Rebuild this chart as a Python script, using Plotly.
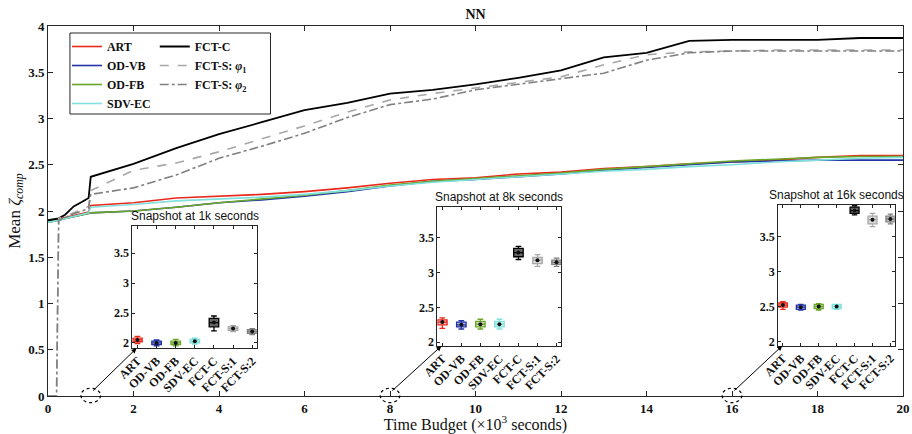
import plotly.graph_objects as go

# ---------------------------------------------------------------- data
# time budget grid, in thousands of seconds
time_k = [0, 0.2, 0.25, 0.4, 0.6, 0.8, 0.95, 1.0, 2, 3, 4, 5, 6, 7, 8, 9, 10,
          11, 12, 13, 14, 15, 16, 17, 18, 19, 20]

art = [1.89, 1.90, 1.91, 1.93, 1.95, 1.97, 1.99, 2.06, 2.09, 2.14, 2.16, 2.18, 2.21,
       2.25, 2.30, 2.34, 2.36, 2.40, 2.42, 2.46, 2.48, 2.51, 2.53, 2.55, 2.58, 2.60, 2.60]
od_vb = [1.88, 1.89, 1.90, 1.92, 1.94, 1.96, 1.97, 1.98, 2.00, 2.04, 2.09, 2.12, 2.16,
         2.21, 2.27, 2.32, 2.34, 2.37, 2.40, 2.44, 2.47, 2.50, 2.53, 2.54, 2.55, 2.55, 2.55]
od_fb = [1.88, 1.89, 1.90, 1.92, 1.94, 1.96, 1.97, 1.98, 2.00, 2.04, 2.09, 2.13, 2.17,
         2.22, 2.28, 2.32, 2.35, 2.38, 2.41, 2.45, 2.48, 2.51, 2.54, 2.56, 2.58, 2.59, 2.59]
sdv_ec = [1.88, 1.89, 1.90, 1.92, 1.94, 1.96, 1.98, 2.04, 2.07, 2.11, 2.13, 2.15, 2.18,
          2.22, 2.27, 2.31, 2.34, 2.37, 2.40, 2.43, 2.45, 2.48, 2.50, 2.53, 2.55, 2.57, 2.58]
fct_c = [1.90, 1.91, 1.92, 1.96, 2.05, 2.10, 2.14, 2.37, 2.51, 2.68, 2.83, 2.96, 3.09,
         3.17, 3.27, 3.31, 3.37, 3.44, 3.52, 3.66, 3.71, 3.84, 3.85, 3.85, 3.85, 3.87, 3.87]
fct_s1 = [0, 0, 1.92, 1.94, 1.98, 2.02, 2.05, 2.22, 2.44, 2.52, 2.64, 2.78, 2.92,
          3.07, 3.20, 3.27, 3.33, 3.39, 3.45, 3.58, 3.69, 3.72, 3.73, 3.74, 3.74, 3.74, 3.74]
fct_s2 = [0, 0, 1.90, 1.93, 1.97, 2.00, 2.03, 2.18, 2.25, 2.39, 2.57, 2.70, 2.84,
          3.01, 3.15, 3.21, 3.31, 3.37, 3.43, 3.49, 3.63, 3.71, 3.73, 3.73, 3.73, 3.73, 3.73]

# snapshot box statistics (one entry per method)
methods = ["ART", "OD-VB", "OD-FB", "SDV-EC", "FCT-C", "FCT-S:1", "FCT-S:2"]
snap_times = [1, 8, 16]
snap_titles = ["Snapshot at 1k seconds", "Snapshot at 8k seconds", "Snapshot at 16k seconds"]

med_1k = [2.05, 2.00, 2.00, 2.03, 2.34, 2.24, 2.19]
q1_1k = [2.02, 1.97, 1.97, 2.00, 2.27, 2.21, 2.16]
q3_1k = [2.08, 2.03, 2.03, 2.06, 2.41, 2.27, 2.22]
lo_1k = [1.99, 1.95, 1.95, 1.98, 2.20, 2.19, 2.14]
hi_1k = [2.11, 2.05, 2.06, 2.08, 2.45, 2.29, 2.24]

med_8k = [2.29, 2.25, 2.26, 2.26, 3.29, 3.18, 3.15]
q1_8k = [2.25, 2.22, 2.22, 2.22, 3.23, 3.13, 3.12]
q3_8k = [2.32, 2.29, 2.30, 2.30, 3.35, 3.22, 3.18]
lo_8k = [2.20, 2.19, 2.19, 2.19, 3.19, 3.09, 3.09]
hi_8k = [2.35, 2.31, 2.33, 2.33, 3.38, 3.26, 3.21]

med_16k = [2.52, 2.49, 2.50, 2.50, 3.87, 3.74, 3.75]
q1_16k = [2.49, 2.46, 2.47, 2.47, 3.83, 3.68, 3.71]
q3_16k = [2.55, 2.52, 2.53, 2.53, 3.92, 3.79, 3.79]
lo_16k = [2.46, 2.45, 2.45, 2.46, 3.81, 3.64, 3.68]
hi_16k = [2.57, 2.53, 2.54, 2.53, 3.94, 3.83, 3.82]

# ---------------------------------------------------------------- styling
SERIF = "Liberation Serif"
SANS = "Liberation Sans"
AX = "#262626"

line_colors = ["#e8291c", "#2334a8", "#6aa628", "#80e0dc", "#000000", "#a8a8a8", "#808080"]
box_fills = ["rgba(232,41,28,0.35)", "rgba(35,52,168,0.35)", "rgba(106,166,40,0.35)",
             "rgba(128,224,220,0.40)", "rgba(0,0,0,0.6)", "rgba(168,168,168,0.45)",
             "rgba(128,128,128,0.5)"]

W, H = 912, 434
ML, MR, MT, MB = 48, 7, 26, 38
PW, PH = W - ML - MR, H - MT - MB

fig = go.Figure()

series = [
    ("ART", art, line_colors[0], "solid", 1.6, "legend"),
    ("OD-VB", od_vb, line_colors[1], "solid", 1.6, "legend"),
    ("OD-FB", od_fb, line_colors[2], "solid", 1.6, "legend"),
    ("SDV-EC", sdv_ec, line_colors[3], "solid", 1.6, "legend"),
    ("FCT-C", fct_c, line_colors[4], "solid", 1.8, "legend2"),
    ("FCT-S: <i>φ</i><sub>1</sub>", fct_s1, line_colors[5], "dash", 1.6, "legend2"),
    ("FCT-S: <i>φ</i><sub>2</sub>", fct_s2, line_colors[6], "dashdot", 1.6, "legend2"),
]
for name, ys, col, dash, wid, leg in series:
    fig.add_trace(go.Scatter(x=time_k, y=ys, mode="lines", name=name,
                             line=dict(color=col, dash=dash, width=wid),
                             legend=leg))

# ---------------------------------------------------------------- insets
inset_dom_x = [[0.0988, 0.2442], [0.4554, 0.6001], [0.8541, 0.9903]]
inset_dom_y = [[0.1289, 0.4603], [0.1351, 0.5116], [0.1359, 0.5162]]
inset_yrange = [[1.91, 3.96], [1.945, 3.95], [1.94, 3.95]]
snap_stats = [
    (med_1k, q1_1k, q3_1k, lo_1k, hi_1k),
    (med_8k, q1_8k, q3_8k, lo_8k, hi_8k),
    (med_16k, q1_16k, q3_16k, lo_16k, hi_16k),
]

annotations = []
shapes = []
for k in range(3):
    xa, ya = f"x{k + 2}", f"y{k + 2}"
    med, q1, q3, lo, hi = snap_stats[k]
    for j, m in enumerate(methods):
        fig.add_trace(go.Box(
            x=[m], q1=[q1[j]], median=[med[j]], q3=[q3[j]],
            lowerfence=[lo[j]], upperfence=[hi[j]],
            xaxis=xa, yaxis=ya, width=0.5, whiskerwidth=0.6,
            line=dict(color=line_colors[j], width=1.3),
            fillcolor=box_fills[j], boxpoints=False, showlegend=False,
            hoverinfo="skip"))
    fig.add_trace(go.Scatter(
        x=methods, y=med, mode="markers", xaxis=xa, yaxis=ya,
        marker=dict(color="#111111", size=4), showlegend=False, hoverinfo="skip"))

    axis_common = dict(showline=True, linecolor=AX, linewidth=1, mirror="ticks",
                       ticks="inside", ticklen=3, tickcolor=AX, showgrid=False,
                       zeroline=False)
    fig.update_layout(**{
        f"xaxis{k + 2}": dict(domain=inset_dom_x[k], anchor=ya, type="category",
                              categoryorder="array", categoryarray=methods,
                              range=[-0.26, 6.24], tickangle=-45,
                              tickfont=dict(family=SERIF, size=12, color="#111",
                                            weight="bold"),
                              **axis_common),
        f"yaxis{k + 2}": dict(domain=inset_dom_y[k], anchor=xa,
                              range=inset_yrange[k], tickvals=[2, 2.5, 3, 3.5],
                              tickfont=dict(family=SERIF, size=12, color="#111",
                                            weight="bold"),
                              **axis_common),
    })

    # inset title
    annotations.append(dict(
        xref="paper", yref="paper", x=sum(inset_dom_x[k]) / 2, y=inset_dom_y[k][1],
        xanchor="center", yanchor="bottom", yshift=1, showarrow=False,
        text=snap_titles[k], font=dict(family=SANS, size=12, color="#111")))

    # dotted marker on the time axis at the snapshot time
    t = snap_times[k]
    shapes.append(dict(type="circle", xref="x", yref="paper",
                       x0=t - 0.23, x1=t + 0.23, y0=-0.018, y1=0.021,
                       line=dict(color="black", width=1.2, dash="dot")))

    # arrow from the snapshot marker to the inset
    hx = ML + inset_dom_x[k][0] * PW + 4
    hy = MT + PH - inset_dom_y[k][0] * PH
    tx = ML + t / 20 * PW + 1
    ty = MT + PH - 4
    annotations.append(dict(
        xref="paper", yref="paper", x=inset_dom_x[k][0] + 4 / PW, y=inset_dom_y[k][0],
        axref="pixel", ayref="pixel", ax=tx - hx, ay=ty - hy, text="",
        showarrow=True, arrowhead=2, arrowsize=1, arrowwidth=1, arrowcolor="black"))

# legend frame
shapes.append(dict(type="rect", xref="paper", yref="paper",
                   x0=(70 - ML) / PW, x1=(271 - ML) / PW,
                   y0=(MT + PH - 114) / PH, y1=(MT + PH - 33) / PH,
                   line=dict(color=AX, width=1), fillcolor="white", layer="below"))

legend_font = dict(family=SERIF, size=12, color="#111", weight="bold")
fig.update_layout(
    width=W, height=H,
    margin=dict(l=ML, r=MR, t=MT, b=MB),
    paper_bgcolor="white", plot_bgcolor="rgba(0,0,0,0)",
    title=dict(text="<b>NN</b>", x=0.5, xref="paper", y=1 - 14 / H, yanchor="middle",
               font=dict(family=SERIF, size=14, color="#111")),
    xaxis=dict(range=[0, 20], dtick=2, ticks="inside", ticklen=5, tickcolor=AX,
               showline=True, linecolor=AX, linewidth=1, mirror="ticks",
               showgrid=False, zeroline=False, automargin=False,
               tickfont=dict(family=SERIF, size=13, color="#111", weight="bold"),
               title=dict(text="Time Budget (×10<sup>3</sup> seconds)", standoff=2,
                          font=dict(family=SERIF, size=16, color="#111"))),
    yaxis=dict(range=[0, 4], dtick=0.5, ticks="inside", ticklen=5, tickcolor=AX,
               showline=True, linecolor=AX, linewidth=1, mirror="ticks",
               showgrid=False, zeroline=False, automargin=False,
               tickfont=dict(family=SERIF, size=13, color="#111", weight="bold"),
               title=dict(text="Mean <i>ζ</i><sub><i>comp</i></sub>", standoff=3,
                          font=dict(family=SERIF, size=17, color="#111"))),
    legend=dict(x=(67 - ML) / PW, y=(MT + PH - 32) / PH, xanchor="left", yanchor="top",
                bgcolor="rgba(0,0,0,0)", borderwidth=0, itemwidth=30,
                tracegroupgap=0, font=legend_font),
    legend2=dict(x=(155 - ML) / PW, y=(MT + PH - 32) / PH, xanchor="left", yanchor="top",
                 bgcolor="rgba(0,0,0,0)", borderwidth=0, itemwidth=30,
                 tracegroupgap=0, font=legend_font),
    shapes=shapes,
    annotations=annotations,
    boxmode="overlay",
)

fig.write_html("out.html")
